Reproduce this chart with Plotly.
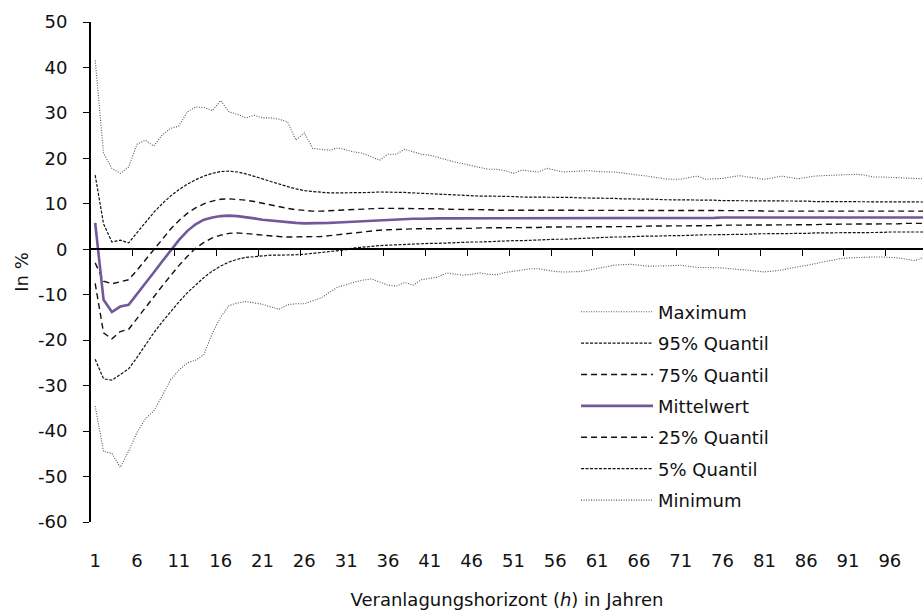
import plotly.graph_objects as go

categories = list(range(1, 101))
tick_labels = [str(c) for c in categories[::5]]
y_ticks = list(range(-60, 51, 10))
y_tick_labels = [str(v) for v in y_ticks]

maximum = [41.6, 21.1, 17.8, 16.7, 18.1, 23.1, 24.0, 22.7, 25.1, 26.6,
           27.1, 30.2, 31.3, 31.2, 30.5, 32.7, 30.2, 29.7, 28.9, 29.5,
           28.9, 28.9, 28.6, 28.0, 24.0, 25.6, 22.2, 22.0, 21.8, 22.3,
           21.8, 21.4, 21.1, 20.3, 19.6, 20.9, 20.9, 22.0, 21.4, 20.9,
           20.7, 20.2, 19.6, 19.2, 18.8, 18.4, 17.9, 17.6, 17.6, 17.3,
           16.7, 17.4, 17.2, 17.0, 17.8, 17.4, 17.0, 17.1, 17.2, 17.3,
           17.1, 17.1, 17.0, 16.8, 16.5, 16.3, 16.1, 15.8, 15.5, 15.4,
           15.4, 15.8, 16.1, 15.4, 15.5, 15.6, 15.9, 16.2, 15.9, 15.6,
           15.4, 15.7, 16.1, 15.8, 15.5, 15.8, 16.1, 16.2, 16.3, 16.4,
           16.5, 16.5, 16.3, 15.9, 15.9, 15.8, 15.8, 15.7, 15.6, 15.5]

q95 = [16.3, 5.6, 1.6, 2.0, 1.4, 3.6, 5.9, 8.1, 10.0, 11.7,
       13.1, 14.3, 15.3, 16.1, 16.7, 17.1, 17.2, 17.0, 16.6, 16.1,
       15.5, 14.9, 14.3, 13.8, 13.3, 12.9, 12.7, 12.5, 12.4, 12.4,
       12.4, 12.4, 12.5, 12.5, 12.6, 12.6, 12.5, 12.5, 12.4, 12.3,
       12.2, 12.1, 12.0, 11.9, 11.9, 11.8, 11.7, 11.7, 11.7, 11.6,
       11.6, 11.5, 11.5, 11.5, 11.5, 11.4, 11.4, 11.4, 11.3, 11.3,
       11.3, 11.2, 11.2, 11.1, 11.1, 11.0, 11.0, 11.0, 10.9, 10.9,
       10.9, 10.8, 10.8, 10.8, 10.8, 10.7, 10.7, 10.7, 10.7, 10.7,
       10.6, 10.6, 10.6, 10.6, 10.6, 10.6, 10.5, 10.5, 10.5, 10.5,
       10.5, 10.5, 10.4, 10.4, 10.4, 10.4, 10.4, 10.4, 10.4, 10.4]

q75 = [-3.0, -7.0, -7.6, -7.2, -6.7, -4.6, -2.3, 0.0, 2.3, 4.4,
       6.3, 7.9, 9.1, 10.0, 10.6, 11.0, 11.1, 11.0, 10.8, 10.5,
       10.1, 9.7, 9.3, 9.0, 8.7, 8.5, 8.4, 8.4, 8.5, 8.6,
       8.7, 8.8, 8.9, 8.9, 9.0, 9.0, 9.0, 9.0, 9.0, 8.9,
       8.9, 8.9, 8.8, 8.8, 8.8, 8.7, 8.7, 8.7, 8.6, 8.6,
       8.6, 8.6, 8.6, 8.6, 8.6, 8.6, 8.6, 8.6, 8.6, 8.6,
       8.5, 8.5, 8.5, 8.5, 8.5, 8.5, 8.5, 8.5, 8.5, 8.5,
       8.5, 8.5, 8.5, 8.5, 8.5, 8.5, 8.5, 8.5, 8.5, 8.5,
       8.4, 8.4, 8.4, 8.4, 8.4, 8.4, 8.4, 8.4, 8.4, 8.4,
       8.4, 8.4, 8.4, 8.4, 8.4, 8.4, 8.4, 8.4, 8.4, 8.4]

mean = [5.8, -11.1, -13.8, -12.6, -12.2, -9.9, -7.5, -5.1, -2.7, -0.3,
        2.0, 4.0, 5.5, 6.5, 7.0, 7.3, 7.4, 7.3, 7.1, 6.8,
        6.5, 6.3, 6.1, 5.9, 5.8, 5.7, 5.7, 5.7, 5.8, 5.9,
        6.0, 6.1, 6.2, 6.3, 6.4, 6.5, 6.6, 6.6, 6.7, 6.7,
        6.8, 6.8, 6.8, 6.8, 6.8, 6.8, 6.8, 6.8, 6.8, 6.8,
        6.9, 6.9, 6.9, 6.9, 6.9, 6.9, 6.9, 6.9, 6.9, 6.9,
        6.9, 6.9, 6.9, 6.9, 6.9, 6.9, 6.9, 6.9, 6.9, 6.9,
        6.9, 6.9, 6.9, 6.9, 6.9, 7.0, 7.0, 7.0, 7.0, 7.0,
        7.0, 7.0, 7.0, 7.0, 7.0, 7.0, 7.0, 7.0, 7.0, 7.0,
        7.0, 7.0, 7.0, 7.0, 7.0, 7.0, 7.0, 7.0, 7.0, 7.0]

q25 = [-7.5, -18.4, -19.7, -18.1, -17.6, -15.3, -12.9, -10.5, -8.1, -5.8,
       -3.6, -1.6, 0.2, 1.5, 2.5, 3.1, 3.5, 3.6, 3.5, 3.3,
       3.1, 2.9, 2.8, 2.7, 2.7, 2.7, 2.7, 2.8, 3.0, 3.2,
       3.5, 3.7, 3.9, 4.0, 4.2, 4.3, 4.4, 4.4, 4.5, 4.5,
       4.5, 4.6, 4.6, 4.6, 4.6, 4.6, 4.7, 4.7, 4.7, 4.7,
       4.8, 4.8, 4.8, 4.8, 4.9, 4.9, 4.9, 4.9, 4.9, 4.9,
       4.9, 5.0, 5.0, 5.0, 5.0, 5.0, 5.1, 5.1, 5.1, 5.1,
       5.2, 5.2, 5.2, 5.2, 5.2, 5.3, 5.3, 5.3, 5.3, 5.3,
       5.4, 5.4, 5.4, 5.4, 5.4, 5.4, 5.4, 5.5, 5.5, 5.5,
       5.5, 5.5, 5.5, 5.6, 5.6, 5.6, 5.6, 5.7, 5.7, 5.7]

q05 = [-24.2, -28.5, -28.8, -27.5, -26.3, -23.8, -21.0, -18.4, -16.0, -13.7,
       -11.6, -9.6, -7.8, -6.2, -4.8, -3.7, -2.8, -2.2, -1.8, -1.6,
       -1.4, -1.3, -1.3, -1.3, -1.2, -1.1, -0.9, -0.7, -0.5, -0.3,
       -0.1, 0.3, 0.5, 0.7, 0.8, 0.9, 1.0, 1.1, 1.2, 1.2,
       1.3, 1.3, 1.4, 1.4, 1.5, 1.6, 1.6, 1.7, 1.8, 1.8,
       1.9, 1.9, 2.0, 2.0, 2.1, 2.2, 2.2, 2.3, 2.4, 2.5,
       2.6, 2.6, 2.7, 2.7, 2.8, 2.8, 2.9, 2.9, 3.0, 3.0,
       3.0, 3.1, 3.1, 3.2, 3.2, 3.2, 3.3, 3.3, 3.3, 3.4,
       3.4, 3.4, 3.5, 3.5, 3.5, 3.5, 3.6, 3.6, 3.6, 3.6,
       3.7, 3.7, 3.7, 3.7, 3.7, 3.8, 3.8, 3.8, 3.8, 3.8]

minimum = [-34.5, -44.5, -44.9, -48.0, -44.4, -40.3, -37.3, -35.6, -32.3, -28.8,
           -26.6, -25.0, -24.4, -23.2, -18.5, -14.9, -12.4, -11.8, -11.5, -11.8,
           -12.1, -12.7, -13.2, -12.2, -12.0, -12.0, -11.4, -10.7, -9.5, -8.3,
           -7.8, -7.2, -6.8, -6.5, -7.2, -7.9, -8.1, -7.3, -7.9, -6.7,
           -6.4, -6.1, -5.2, -5.4, -5.7, -5.5, -5.2, -5.5, -5.6, -5.1,
           -4.8, -4.6, -4.3, -4.3, -4.6, -4.9, -5.0, -5.0, -4.9, -4.6,
           -4.3, -3.9, -3.5, -3.4, -3.3, -3.5, -3.7, -3.7, -3.7, -3.6,
           -3.5, -3.8, -4.0, -4.0, -4.0, -4.1, -4.3, -4.4, -4.6, -4.8,
           -5.0, -4.8, -4.6, -4.2, -3.9, -3.5, -3.2, -2.8, -2.4, -2.1,
           -1.9, -1.8, -1.7, -1.7, -1.7, -1.8, -1.9, -2.2, -2.5, -1.8]

series_names = ["Maximum", "95% Quantil", "75% Quantil", "Mittelwert",
                "25% Quantil", "5% Quantil", "Minimum"]
series_values = [maximum, q95, q75, mean, q25, q05, minimum]
series_styles = [
    dict(color="#555555", width=1.1, dash="1px,1.5px"),
    dict(color="#111111", width=1.2, dash="3px,1.5px"),
    dict(color="#111111", width=1.4, dash="6px,4px"),
    dict(color="#70589A", width=2.6, dash="solid"),
    dict(color="#111111", width=1.4, dash="6px,4px"),
    dict(color="#111111", width=1.2, dash="3px,1.5px"),
    dict(color="#555555", width=1.1, dash="1px,1.5px"),
]

FONT = "DejaVu Sans"
fig = go.Figure()
for i, (name, vals, style) in enumerate(zip(series_names, series_values, series_styles)):
    fig.add_trace(go.Scatter(x=categories, y=vals, name=name, mode="lines",
                             line=style, legendgroup=f"g{i}"))

# helper trace for the axis drawn through zero
fig.add_trace(go.Scatter(x=[None], y=[None], xaxis="x2", yaxis="y",
                         showlegend=False, hoverinfo="skip"))

x_range = [0.5, 99.96]
y_min, y_max = -60, 50

fig.update_layout(
    width=923, height=611,
    margin=dict(l=91, r=0, t=22, b=89, pad=0),
    paper_bgcolor="white", plot_bgcolor="white",
    font=dict(family=FONT, size=18, color="#111111"),
    showlegend=True,
    legend=dict(x=0.583, y=0.457, xanchor="left", yanchor="top",
                font=dict(family=FONT, size=18, color="#111111"),
                itemwidth=72, tracegroupgap=5, bgcolor="rgba(0,0,0,0)",
                traceorder="grouped"),
    xaxis=dict(range=x_range, tickmode="array", tickvals=categories[::5],
               ticktext=tick_labels, showline=False, ticks="", showgrid=False,
               zeroline=False, ticklabelstandoff=26,
               tickfont=dict(family=FONT, size=18),
               title=dict(text="Veranlagungshorizont (<i>h</i>) in Jahren",
                          font=dict(family=FONT, size=18), standoff=23)),
    xaxis2=dict(range=x_range, overlaying="x", anchor="free",
                position=(0 - y_min) / (y_max - y_min),
                tickmode="array", tickvals=[c + 4.5 for c in categories[::5]],
                ticks="outside", ticklen=6, tickwidth=1, tickcolor="black",
                showline=True, linewidth=2, linecolor="black",
                showticklabels=False, showgrid=False, zeroline=False),
    yaxis=dict(range=[y_min, y_max], tickmode="array", tickvals=y_ticks,
               ticktext=y_tick_labels, showline=True,
               linewidth=2, linecolor="black", ticks="outside", ticklen=6,
               tickwidth=1, tickcolor="black", showgrid=False, zeroline=False,
               ticklabelstandoff=12,
               tickfont=dict(family=FONT, size=18),
               title=dict(text="In %", font=dict(family=FONT, size=18), standoff=5)),
)

fig.write_html("out.html")
